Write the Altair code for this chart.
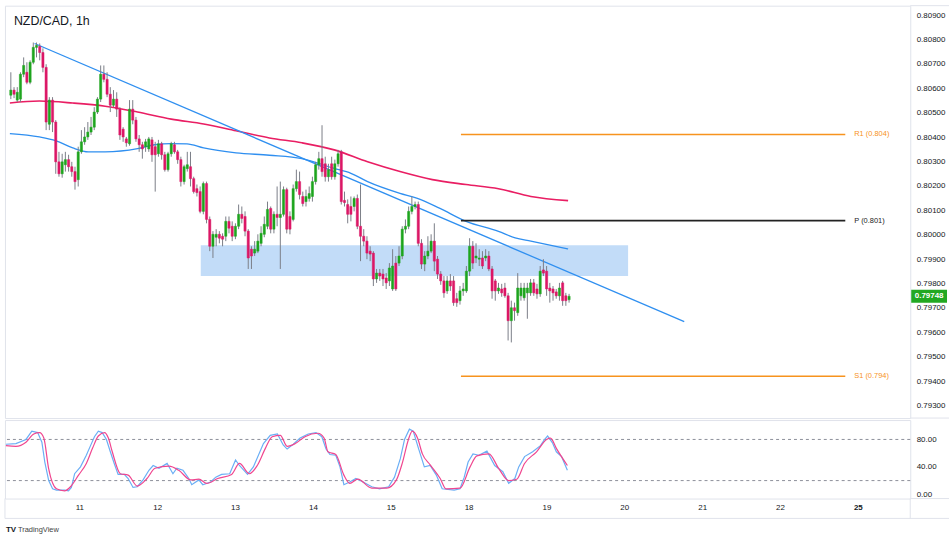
import altair as alt
import pandas as pd

# ---------------- data ----------------
TITLE = "NZD/CAD, 1h"
FIRST_HOUR = 1.2  # hours after day-10 00:00 (trading time, weekend removed)

OPEN = [0.80572,0.80593,0.80552,0.80556,0.80658,0.80666,0.80625,0.80707,0.80768,0.80772,
        0.80747,0.80686,0.80453,0.80552,0.80462,0.80299,0.80250,0.80287,0.80308,0.80279,
        0.80259,0.80226,0.80340,0.80381,0.80401,0.80421,0.80441,0.80503,0.80556,0.80658,
        0.80637,0.80576,0.80531,0.80556,0.80515,0.80433,0.80393,0.80373,0.80515,0.80470,
        0.80393,0.80369,0.80361,0.80352,0.80389,0.80361,0.80332,0.80373,0.80328,0.80267,
        0.80332,0.80369,0.80340,0.80308,0.80218,0.80271,0.80279,0.80230,0.80189,0.80177,
        0.80096,0.80210,0.80063,0.79953,0.79990,0.80002,0.79994,0.79994,0.80055,0.80035,
        0.79994,0.80035,0.80084,0.80075,0.80015,0.79941,0.79925,0.79933,0.79965,0.80002,
        0.80035,0.80108,0.80023,0.80084,0.80071,0.80084,0.80185,0.80075,0.80063,0.80189,
        0.80218,0.80157,0.80136,0.80149,0.80157,0.80218,0.80287,0.80312,0.80291,0.80238,
        0.80291,0.80238,0.80291,0.80340,0.80141,0.80124,0.80116,0.80116,0.80149,0.80035,
        0.79994,0.79974,0.79933,0.79925,0.79819,0.79843,0.79839,0.79823,0.79811,0.79778,
        0.79884,0.79884,0.79913,0.80023,0.80035,0.80096,0.80116,0.80124,0.79965,0.79880,
        0.79913,0.79933,0.79974,0.79900,0.79839,0.79811,0.79770,0.79811,0.79811,0.79738,
        0.79730,0.79770,0.79770,0.79851,0.79953,0.79905,0.79900,0.79905,0.79905,0.79913,
        0.79860,0.79811,0.79770,0.79778,0.79782,0.79750,0.79648,0.79701,0.79681,0.79750,
        0.79742,0.79762,0.79762,0.79803,0.79778,0.79758,0.79856,0.79851,0.79782,0.79778,
        0.79766,0.79750,0.79803,0.79750,0.79734]
CLOSE = [0.80593,0.80576,0.80584,0.80658,0.80694,0.80625,0.80707,0.80768,0.80776,0.80747,
         0.80686,0.80462,0.80552,0.80462,0.80299,0.80250,0.80299,0.80308,0.80279,0.80259,
         0.80218,0.80340,0.80381,0.80401,0.80421,0.80441,0.80503,0.80556,0.80658,0.80637,
         0.80576,0.80531,0.80556,0.80515,0.80409,0.80401,0.80377,0.80515,0.80470,0.80393,
         0.80369,0.80352,0.80381,0.80393,0.80328,0.80328,0.80373,0.80328,0.80267,0.80332,
         0.80373,0.80340,0.80308,0.80218,0.80279,0.80287,0.80230,0.80177,0.80173,0.80096,
         0.80210,0.80063,0.79953,0.80002,0.80002,0.79986,0.79982,0.80055,0.80027,0.79994,
         0.80035,0.80084,0.80067,0.80015,0.79905,0.79913,0.79941,0.79974,0.80006,0.80043,
         0.80104,0.80023,0.80084,0.80071,0.80084,0.80185,0.80023,0.80023,0.80189,0.80218,
         0.80165,0.80128,0.80157,0.80169,0.80218,0.80287,0.80312,0.80259,0.80238,0.80267,
         0.80238,0.80291,0.80332,0.80136,0.80132,0.80084,0.80084,0.80149,0.80035,0.79994,
         0.79974,0.79925,0.79921,0.79819,0.79843,0.79831,0.79819,0.79803,0.79864,0.79872,
         0.79778,0.79913,0.80023,0.80035,0.80096,0.80116,0.80124,0.79965,0.79880,0.79913,
         0.79933,0.79974,0.79892,0.79839,0.79811,0.79762,0.79811,0.79790,0.79722,0.79722,
         0.79770,0.79778,0.79851,0.79953,0.79884,0.79913,0.79905,0.79872,0.79913,0.79860,
         0.79770,0.79770,0.79782,0.79762,0.79750,0.79648,0.79701,0.79689,0.79782,0.79782,
         0.79782,0.79782,0.79803,0.79762,0.79758,0.79851,0.79843,0.79778,0.79770,0.79762,
         0.79750,0.79782,0.79730,0.79730,0.79748]
HIGH = [0.80666,0.80605,0.80605,0.80666,0.80727,0.80707,0.80715,0.80788,0.80788,0.80784,
        0.80764,0.80699,0.80564,0.80564,0.80470,0.80340,0.80332,0.80340,0.80328,0.80299,
        0.80279,0.80361,0.80429,0.80441,0.80462,0.80483,0.80523,0.80564,0.80694,0.80694,
        0.80666,0.80605,0.80593,0.80584,0.80523,0.80441,0.80401,0.80552,0.80552,0.80483,
        0.80409,0.80381,0.80393,0.80401,0.80401,0.80381,0.80389,0.80381,0.80340,0.80340,
        0.80381,0.80381,0.80348,0.80320,0.80287,0.80340,0.80340,0.80238,0.80206,0.80198,
        0.80218,0.80218,0.80075,0.80015,0.80023,0.80015,0.80006,0.80075,0.80075,0.80055,
        0.80047,0.80124,0.80116,0.80096,0.80023,0.79953,0.79974,0.80002,0.80035,0.80075,
        0.80136,0.80116,0.80096,0.80198,0.80218,0.80198,0.80193,0.80096,0.80206,0.80267,
        0.80259,0.80177,0.80185,0.80198,0.80238,0.80299,0.80340,0.80449,0.80320,0.80291,
        0.80320,0.80308,0.80348,0.80348,0.80177,0.80145,0.80157,0.80157,0.80165,0.80206,
        0.80023,0.79994,0.79953,0.79933,0.79860,0.79860,0.79860,0.79843,0.79884,0.79941,
        0.79913,0.79953,0.80035,0.80063,0.80116,0.80157,0.80136,0.80136,0.79982,0.79933,
        0.79994,0.80002,0.80047,0.79913,0.79851,0.79831,0.79831,0.79839,0.79831,0.79762,
        0.79790,0.79803,0.79872,0.79986,0.79974,0.79965,0.79941,0.79933,0.79941,0.79933,
        0.79872,0.79819,0.79803,0.79799,0.79803,0.79762,0.79730,0.79722,0.79843,0.79803,
        0.79803,0.79803,0.79819,0.79819,0.79799,0.79872,0.79900,0.79872,0.79803,0.79790,
        0.79778,0.79803,0.79811,0.79762,0.79758]
LOW = [0.80556,0.80560,0.80544,0.80544,0.80646,0.80617,0.80617,0.80699,0.80727,0.80715,
       0.80666,0.80429,0.80429,0.80421,0.80250,0.80238,0.80234,0.80259,0.80259,0.80238,
       0.80185,0.80198,0.80332,0.80369,0.80389,0.80409,0.80429,0.80495,0.80544,0.80625,
       0.80564,0.80503,0.80523,0.80483,0.80389,0.80381,0.80361,0.80365,0.80453,0.80381,
       0.80340,0.80312,0.80340,0.80340,0.80299,0.80177,0.80320,0.80308,0.80259,0.80259,
       0.80320,0.80332,0.80291,0.80198,0.80206,0.80259,0.80198,0.80169,0.80157,0.80088,
       0.80084,0.80047,0.79933,0.79905,0.79953,0.79965,0.79953,0.79974,0.80006,0.79974,
       0.79982,0.80023,0.80047,0.79994,0.79860,0.79860,0.79913,0.79925,0.79953,0.79990,
       0.80023,0.80006,0.80006,0.80035,0.79860,0.80075,0.80006,0.80002,0.80055,0.80177,
       0.80145,0.80116,0.80116,0.80136,0.80136,0.80206,0.80267,0.80238,0.80218,0.80218,
       0.80226,0.80226,0.80279,0.80124,0.80116,0.80047,0.80055,0.80096,0.80023,0.79892,
       0.79953,0.79900,0.79892,0.79790,0.79803,0.79811,0.79790,0.79778,0.79790,0.79770,
       0.79770,0.79872,0.79900,0.80006,0.80023,0.80084,0.80104,0.79953,0.79860,0.79851,
       0.79900,0.79925,0.79851,0.79819,0.79795,0.79742,0.79758,0.79770,0.79709,0.79705,
       0.79714,0.79750,0.79762,0.79831,0.79860,0.79884,0.79872,0.79860,0.79892,0.79851,
       0.79738,0.79730,0.79758,0.79746,0.79742,0.79567,0.79559,0.79648,0.79668,0.79730,
       0.79730,0.79656,0.79750,0.79750,0.79738,0.79746,0.79831,0.79750,0.79722,0.79730,
       0.79738,0.79730,0.79709,0.79709,0.79722]

RED_MA_H = [0.9, 10.1, 20.5, 30.6, 40.7, 51.2, 61.3, 71.4, 81.8, 91.9, 102.0, 112.4,
            122.5, 132.6, 143.1, 153.2, 163.3, 174.9]
RED_MA_P = [0.80540, 0.80548, 0.80540, 0.80527, 0.80503, 0.80474, 0.80454, 0.80426,
            0.80397, 0.80377, 0.80348, 0.80299, 0.80259, 0.80226, 0.80206, 0.80189,
            0.80157, 0.80140]
BLUE_MA_H = [0.9, 10.1, 15.3, 20.5, 25.4, 30.6, 40.7, 46.0, 51.2, 56.1, 61.3, 71.4, 81.8,
             91.9, 102.0, 107.2, 112.4, 122.5, 127.7, 134.8, 143.1, 153.2, 158.4, 163.3, 174.9]
BLUE_MA_P = [0.80415, 0.80401, 0.80385, 0.80356, 0.80340, 0.80340, 0.80353, 0.80369,
             0.80374, 0.80373, 0.80356, 0.80336, 0.80326, 0.80312, 0.80272, 0.80252,
             0.80218, 0.80170, 0.80150, 0.80109, 0.80055, 0.80014, 0.79987, 0.79974, 0.79942]

TREND_H = [8.6, 211.1]
TREND_P = [0.80784, 0.79644]

ZONE_H = [60.4, 193.6]
ZONE_P = [0.79831, 0.79957]

PIVOT_NAMES = ["R1", "P", "S1"]
PIVOT_LEVELS = [0.80411, 0.80058, 0.79420]
PIVOT_TEXT = ["R1 (0.804)", "P (0.801)", "S1 (0.794)"]
PIVOT_H = [141.5, 261.3]

K_H = [1.2, 4.3, 7.4, 9.2, 11.0, 12.3, 13.2, 14.4, 15.6, 16.8, 19.3, 20.5, 21.4, 22.4, 24.2,
       26.0, 27.3, 28.5, 29.7, 30.9, 32.2, 33.4, 34.6, 35.8, 37.7, 38.9, 40.4, 41.7, 43.5,
       45.3, 46.6, 48.4, 50.9, 52.7, 53.9, 55.8, 57.6, 58.5, 60.7, 61.9, 64.3, 65.9, 67.7,
       70.2, 72.0, 73.2, 75.7, 77.5, 80.6, 82.7, 84.9, 86.7, 87.9, 89.8, 91.9, 94.4, 96.8,
       98.6, 99.9, 101.1, 102.9, 104.2, 105.4, 107.2, 109.1, 110.9, 114.0, 116.4, 119.2,
       121.0, 122.8, 124.1, 125.6, 126.8, 128.4, 130.2, 132.0, 133.9, 135.7, 139.4, 141.2,
       142.5, 143.7, 145.2, 147.0, 149.5, 151.9, 154.4, 156.2, 158.1, 159.3, 161.1, 163.6,
       166.0, 167.3, 168.2, 169.7, 170.9, 172.5, 174.3]
K_V = [73, 74, 80, 92, 90, 76, 47, 20, 8, 6, 6, 5, 10, 30, 40, 57, 71, 84, 92, 90, 80, 62, 45,
       29, 29, 23, 10, 11, 21, 35, 42, 38, 45, 30, 38, 35, 23, 14, 21, 14, 18, 25, 29, 30, 50,
       42, 29, 40, 74, 86, 88, 72, 66, 73, 82, 88, 90, 84, 66, 58, 57, 40, 14, 18, 23, 19, 11,
       8, 11, 25, 52, 80, 95, 92, 67, 40, 42, 28, 8, 6, 8, 25, 47, 59, 57, 63, 42, 33, 16, 23,
       40, 55, 62, 71, 80, 85, 75, 62, 55, 35]
D_H = [1.2, 4.3, 7.4, 9.8, 11.6, 12.9, 14.4, 16.8, 19.3, 21.1, 23.6, 26.0, 27.9, 29.7, 31.6,
       32.8, 34.0, 36.5, 38.9, 41.7, 44.7, 47.2, 51.5, 54.5, 58.2, 60.7, 63.1, 66.5, 70.8,
       73.2, 76.3, 78.7, 81.2, 83.3, 85.8, 87.9, 90.4, 93.4, 97.4, 99.3, 100.5, 102.9, 105.4,
       107.2, 109.7, 114.0, 118.6, 121.6, 123.5, 125.3, 126.5, 128.1, 129.6, 132.0, 135.1,
       136.9, 141.2, 144.3, 146.4, 150.1, 153.2, 156.2, 158.7, 161.1, 164.8, 167.9, 169.1,
       170.9, 174.3]
D_V = [71, 70, 76, 88, 90, 82, 37, 8, 5, 11, 28, 45, 67, 85, 90, 82, 62, 30, 28, 12, 23, 38,
       41, 35, 21, 22, 16, 23, 29, 45, 30, 42, 67, 84, 86, 70, 74, 84, 89, 82, 62, 58, 28, 16,
       22, 9, 9, 21, 47, 80, 92, 82, 59, 43, 23, 8, 9, 40, 56, 59, 37, 20, 22, 45, 62, 80, 82,
       67, 42]
STOCH_LEVELS = [80, 20]

DAY_H = [24, 48, 72, 96, 120, 144, 168, 192, 216, 240, 264]
DAY_LABELS = ["11", "12", "13", "14", "15", "18", "19", "20", "21", "22", "25"]
PRICE_TICKS = [round(0.793 + 0.001 * k, 3) for k in range(17)]
STOCH_TICKS = [0, 40, 80]

# ---------------- styling ----------------
FONT = "Liberation Sans"
TXT = "#131722"
FRAME = "#e0e3eb"
GREEN = "#1ea51e"
RED = "#dc1766"
W, H_TOP, H_BOT = 911, 415, 79
xs = alt.Scale(domain=[0.92, 280.0], nice=False, zero=False)
ys = alt.Scale(domain=[0.79249, 0.80939], nice=False, zero=False)
ss = alt.Scale(domain=[-6.2, 108.3], nice=False, zero=False)

price_axis = alt.Axis(orient="right", values=PRICE_TICKS, format=".5f", domain=False,
                      ticks=False, grid=False, labelFont=FONT, labelFontSize=8,
                      labelColor=TXT, labelPadding=6, title=None)
stoch_axis = alt.Axis(orient="right", values=STOCH_TICKS, format=".2f", domain=False,
                      ticks=False, grid=False, labelFont=FONT, labelFontSize=8,
                      labelColor=TXT, labelPadding=6, title=None)

X = lambda f: alt.X(f, type="quantitative", scale=xs, axis=None)
Y = lambda f: alt.Y(f, type="quantitative", scale=ys, axis=price_axis)
S = lambda f: alt.Y(f, type="quantitative", scale=ss, axis=stoch_axis)

candles = pd.DataFrame({"h": [FIRST_HOUR + i for i in range(len(OPEN))],
                        "o": OPEN, "c": CLOSE, "hi": HIGH, "lo": LOW})
up = "datum.c >= datum.o"
one = pd.DataFrame({"a": [0]})

zone = alt.Chart(pd.DataFrame({"h0": [ZONE_H[0]], "h1": [ZONE_H[1]],
                               "p0": [ZONE_P[0]], "p1": [ZONE_P[1]]})).mark_rect(
    color="#c2dcf8").encode(x=X("h0"), x2="h1", y=Y("p0"), y2="p1")

red_ma = alt.Chart(pd.DataFrame({"h": RED_MA_H, "p": RED_MA_P})).mark_line(
    color="#e91e63", strokeWidth=1.6, interpolate="monotone").encode(x=X("h"), y=Y("p"))
blue_ma = alt.Chart(pd.DataFrame({"h": BLUE_MA_H, "p": BLUE_MA_P})).mark_line(
    color="#2f8ff0", strokeWidth=1.3, interpolate="monotone").encode(x=X("h"), y=Y("p"))
trend = alt.Chart(pd.DataFrame({"h": TREND_H, "p": TREND_P})).mark_line(
    color="#2f8ff0", strokeWidth=1.3).encode(x=X("h"), y=Y("p"))

piv = pd.DataFrame({"name": PIVOT_NAMES, "lvl": PIVOT_LEVELS, "txt": PIVOT_TEXT,
                    "h0": PIVOT_H[0], "h1": PIVOT_H[1]})
piv_col = alt.condition("datum.name == 'P'", alt.value("#222222"), alt.value("#f7931e"))
pivot_lines = alt.Chart(piv).mark_rule(strokeWidth=1.6).encode(
    x=X("h0"), x2="h1", y=Y("lvl"), color=piv_col)
pivot_text = alt.Chart(piv).mark_text(align="left", baseline="middle", dx=9, font=FONT,
                                      fontSize=7.5).encode(
    x=X("h1"), y=Y("lvl"), text="txt:N", color=piv_col)

wicks = alt.Chart(candles).mark_rule(color="#7b7e87", strokeWidth=1).encode(
    x=X("h"), y=Y("lo"), y2="hi:Q")
bodies = alt.Chart(candles).mark_bar(size=2.2, strokeWidth=0.5).encode(
    x=X("h"), y=Y("o"), y2="c:Q",
    color=alt.condition(up, alt.value(GREEN), alt.value(RED)),
    stroke=alt.condition(up, alt.value(GREEN), alt.value(RED)))

last = pd.DataFrame({"p": [CLOSE[-1]], "t": [f"{CLOSE[-1]:.5f}"]})
price_box = alt.Chart(last).mark_point(
    shape="M-1,-0.36L1,-0.36L1,0.36L-1,0.36Z", filled=True, size=1296, opacity=1,
    color="#22a822").encode(x=alt.value(930), y=Y("p"))
price_txt = alt.Chart(last).mark_text(font=FONT, fontSize=8, color="white",
                                      fontWeight="bold").encode(
    x=alt.value(930), y=Y("p"), text="t:N")

title = alt.Chart(pd.DataFrame({"t": [TITLE]})).mark_text(
    align="left", baseline="middle", font=FONT, fontSize=12.5, color=TXT).encode(
    x=alt.value(9), y=alt.value(15), text="t:N")

frame_top = alt.Chart(one).mark_rule(color=FRAME).encode(
    x=alt.value(911), x2=alt.value(950), y=alt.value(0))
frame_mid = alt.Chart(one).mark_rule(color=FRAME).encode(
    x=alt.value(911), x2=alt.value(950), y=alt.value(H_TOP))

top = alt.layer(zone, red_ma, blue_ma, trend, pivot_lines, pivot_text, wicks, bodies,
                price_box, price_txt, title, frame_top, frame_mid).properties(
    width=W, height=H_TOP)

# ---------------- stochastic panel ----------------
levels = alt.Chart(pd.DataFrame({"v": STOCH_LEVELS})).mark_rule(
    color="#8c8f99", strokeDash=[3, 3], strokeWidth=1).encode(y=S("v"))
k_line = alt.Chart(pd.DataFrame({"h": K_H, "v": K_V})).mark_line(
    color="#6aaef5", strokeWidth=1.2).encode(x=X("h"), y=S("v"))
d_line = alt.Chart(pd.DataFrame({"h": D_H, "v": D_V})).mark_line(
    color="#f0468f", strokeWidth=1.2, interpolate="monotone").encode(x=X("h"), y=S("v"))

days = pd.DataFrame({"h": DAY_H, "lab": DAY_LABELS})
day_txt = alt.Chart(days).transform_filter("datum.lab != '25'").mark_text(
    font=FONT, fontSize=8, color=TXT, baseline="middle").encode(
    x=X("h"), y=alt.value(89), text="lab:N")
day_bold = alt.Chart(days).transform_filter("datum.lab == '25'").mark_text(
    font=FONT, fontSize=8, color=TXT, baseline="middle", fontWeight="bold").encode(
    x=X("h"), y=alt.value(89), text="lab:N")

f1 = alt.Chart(one).mark_rule(color=FRAME).encode(x=alt.value(0), x2=alt.value(950), y=alt.value(99))
f2 = alt.Chart(one).mark_rule(color=FRAME).encode(x=alt.value(0), y=alt.value(H_BOT), y2=alt.value(99))
f3 = alt.Chart(one).mark_rule(color=FRAME).encode(x=alt.value(W), y=alt.value(H_BOT), y2=alt.value(99))
f4 = alt.Chart(one).mark_rule(color=FRAME).encode(x=alt.value(W), x2=alt.value(950), y=alt.value(H_BOT))

logo = alt.Chart(pd.DataFrame({"t": ["TV"]})).mark_text(
    align="left", baseline="middle", font=FONT, fontSize=8, fontWeight="bold",
    color=TXT).encode(x=alt.value(1), y=alt.value(111), text="t:N")
logo2 = alt.Chart(pd.DataFrame({"t": ["TradingView"]})).mark_text(
    align="left", baseline="middle", font=FONT, fontSize=7.5, color="#444").encode(
    x=alt.value(13), y=alt.value(111), text="t:N")

bottom = alt.layer(levels, k_line, d_line, day_txt, day_bold, f1, f2, f3, f4,
                   logo, logo2).properties(width=W, height=H_BOT)

chart = alt.vconcat(top, bottom, spacing=0).properties(
    padding={"left": 3, "top": 3, "right": 0, "bottom": 0},
    background="white"
).configure_view(stroke=FRAME).configure_concat(spacing=0)

chart.save("out.html", embed_options={"renderer": "svg", "actions": False})
